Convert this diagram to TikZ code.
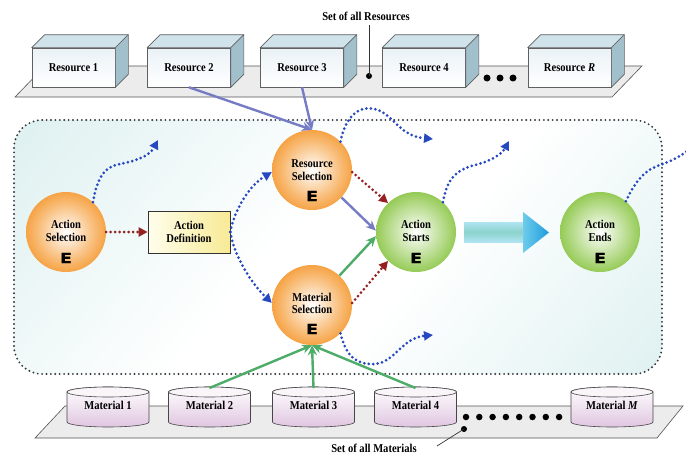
\documentclass[tikz,border=0pt]{standalone}
\usepackage{fontspec}
\setmainfont{Liberation Serif}[FakeStretch=0.88]
\newfontfamily\efont{DejaVu Sans}[FakeStretch=1.25,FakeBold=1]
\usetikzlibrary{arrows.meta}

\definecolor{orng}{RGB}{244,146,34}
\definecolor{grn}{RGB}{128,192,52}
\definecolor{dotblue}{RGB}{38,72,192}
\definecolor{dotred}{RGB}{150,32,32}
\definecolor{slate}{RGB}{118,124,196}
\definecolor{mgreen}{RGB}{76,172,104}
\definecolor{bgteal}{RGB}{206,233,233}
\definecolor{frame}{RGB}{50,56,62}
\definecolor{boxtop}{RGB}{208,226,234}
\definecolor{boxside}{RGB}{162,192,204}
\definecolor{boxfront}{RGB}{234,242,246}
\definecolor{cylpink}{RGB}{224,198,224}
\definecolor{platf}{RGB}{236,236,236}
\definecolor{ivory}{RGB}{255,254,236}
\definecolor{ylw}{RGB}{248,234,150}
\definecolor{shaftA}{RGB}{176,228,242}
\definecolor{shaftB}{RGB}{140,210,204}
\definecolor{headA}{RGB}{110,204,236}
\definecolor{headB}{RGB}{28,156,220}

\pgfdeclareradialshading{orangeball}{\pgfpoint{0bp}{0bp}}{color(0bp)=(white); color(3bp)=(white!90!orng); color(18bp)=(orng!62!white); color(30bp)=(orng); color(50bp)=(orng)}
\pgfdeclareradialshading{greenball}{\pgfpoint{0bp}{0bp}}{color(0bp)=(white); color(3bp)=(white!90!grn); color(18bp)=(grn!60!white); color(30bp)=(grn); color(50bp)=(grn)}
\pgfdeclarehorizontalshading{bgshade}{100bp}{color(0bp)=(bgteal); color(45bp)=(white); color(58bp)=(white); color(100bp)=(bgteal)}

\tikzset{
  lbl/.style={font=\bfseries\fontsize{12}{12.5}\selectfont, align=center, inner sep=0pt},
  ee/.style={font=\efont\bfseries\fontsize{14}{14}\selectfont, inner sep=0pt},
  oball/.style={circle, minimum size=80pt, inner sep=0pt, shading=orangeball},
  gball/.style={circle, minimum size=80pt, inner sep=0pt, shading=greenball},
  bdots/.style={dotblue, line width=3pt, dash pattern=on 0pt off 4.5pt, line cap=round, -{Triangle[length=9pt,width=9pt]}},
  rdots/.style={dotred, line width=3pt, dash pattern=on 0pt off 4.5pt, line cap=round, -{Triangle[length=9pt,width=9pt]}},
  parr/.style={slate, line width=2.4pt, -{Stealth[length=10pt,width=9pt]}},
  garr/.style={mgreen, line width=2.4pt, -{Stealth[length=10pt,width=9pt]}},
  resfront/.style={draw=gray!75!black, line width=0.6pt, minimum width=83pt, minimum height=39pt, inner sep=0pt, top color=boxfront, bottom color=white, font=\bfseries\fontsize{12}{12.5}\selectfont},
  face/.style={draw=gray!75!black, line width=0.6pt, line join=round},
  plat/.style={fill=platf, draw=gray!65!black, line width=0.6pt},
  cylbody/.style={draw=gray!55!black, line width=0.6pt, top color=white, bottom color=cylpink},
  cyltop/.style={draw=gray!55!black, line width=0.6pt, fill=white!82!cylpink},
  blackdot/.style={circle, fill=black, inner sep=0pt, minimum size=#1},
  blackdot/.default=6pt,
  framedots/.style={draw=frame, line width=2.1pt, dash pattern=on 0pt off 4.4pt, line cap=round},
  pointer/.style={draw=gray!40!black, line width=0.7pt},
}

\newcommand\resbox[3]{%
  \node[resfront] (#1) at (#2,-67.5) {#3};
  \draw[face, fill=boxtop] (#1.north west) -- ++(13,13) -- ([shift={(13,13)}]#1.north east) -- (#1.north east) -- cycle;
  \draw[face, fill=boxside] (#1.north east) -- ++(13,13) -- ([shift={(13,13)}]#1.south east) -- (#1.south east) -- cycle;
}
\newcommand\matcyl[3]{%
  \draw[cylbody] ({#2-41},-392) -- ({#2-41},-422) arc[start angle=180,end angle=360,x radius=41,y radius=5] -- ({#2+41},-392) arc[start angle=0,end angle=180,x radius=41,y radius=5] -- cycle;
  \draw[cyltop] (#2,-392) ellipse[x radius=41,y radius=5];
  \node[lbl] (#1) at (#2,-405) {#3};
  \coordinate (#1top) at (#2,-388);
}

\begin{document}
\begin{tikzpicture}[x=1pt,y=1pt]
\path[use as bounding box] (0,0) rectangle (686,-455);
\clip (0,0) rectangle (686,-455);

% background frame
\shade[shading=bgshade, shading angle=-40, rounded corners=28pt] (14,-120) rectangle (662,-374);
\draw[framedots, rounded corners=28pt] (14,-120) rectangle (662,-374);

% resource platform
\draw[plat] (15,-97) -- (612,-97) -- (642,-66) -- (45,-66) -- cycle;
\resbox{r1}{73.5}{Resource 1}
\resbox{r2}{189}{Resource 2}
\resbox{r3}{302}{Resource 3}
\resbox{r4}{424}{Resource 4}
\resbox{rR}{569.5}{Resource \textit{R}}
\node[blackdot=7pt] (rd1) at (487,-78) {};
\node[blackdot=7pt] (rd2) at (500,-78) {};
\node[blackdot=7pt] (rd3) at (513,-78) {};
\node[blackdot] (resdot) at (369,-76) {};
\node[lbl] (setres) at (366,-16) {Set of all Resources};
\coordinate (resline) at (369,-25);
\draw[pointer] (resdot.center) -- (resline);

% material platform
\draw[plat] (35,-438) -- (657,-438) -- (683,-406) -- (65,-406) -- cycle;
\matcyl{m1}{108}{Material 1}
\matcyl{m2}{209.5}{Material 2}
\matcyl{m3}{313.5}{Material 3}
\matcyl{m4}{415.5}{Material 4}
\matcyl{mM}{612}{Material \textit{M}}
\foreach \i in {0,...,7} {\node[blackdot=6.5pt] (md\i) at ({466+13.3*\i},-417) {};}
\node[blackdot] (matdot) at (464,-429) {};
\node[lbl] (setmat) at (374,-448) {Set of all Materials};
\coordinate (matline) at (437,-446);
\draw[pointer] (matdot.center) -- (matline);

% event circles
\node[oball] (as) at (66,-232) {};
\node[lbl] (as-t) at (66,-231) {Action\\Selection};
\node[ee] (as-e) at (66,-258) {E};

\node[oball] (rs) at (312,-170) {};
\node[lbl] (rs-t) at (312,-170) {Resource\\Selection};
\node[ee] (rs-e) at (312,-196) {E};

\node[oball] (ms) at (312,-305) {};
\node[lbl] (ms-t) at (312,-303.5) {Material\\Selection};
\node[ee] (ms-e) at (312,-329) {E};

\node[gball] (acs) at (416,-232) {};
\node[lbl] (acs-t) at (416,-231) {Action\\Starts};
\node[ee] (acs-e) at (416,-258) {E};

\node[gball] (ae) at (600,-232) {};
\node[lbl] (ae-t) at (600,-231) {Action\\Ends};
\node[ee] (ae-e) at (600,-258) {E};

% action definition
\node[draw=gray!40!black, line width=0.7pt, minimum width=82pt, minimum height=42pt, inner sep=0pt,
      left color=ivory, right color=ylw, lbl] (ad) at (189,-232) {Action\\Definition};

% big block arrow
\shade[top color=shaftA, bottom color=shaftA, middle color=shaftB] (464,-222) rectangle (523.5,-242);
\shade[left color=headA, right color=headB] (523,-212) -- (549,-232.5) -- (523,-253) -- cycle;

% red dotted
\draw[rdots] (as.east) -- (ad.west);
\draw[rdots] (rs.-3) -- (acs.134);
\draw[rdots] (ms.3) -- (acs.226);

% blue dotted
\draw[bdots] (as.48) .. controls (98,-175) and (105,-167) .. (120,-164) .. controls (140,-160) and (150,-155) .. (158,-140);
\draw[bdots] (ad.east) .. controls (234,-210) and (250,-185) .. (rs.183);
\draw[bdots] (ad.east) .. controls (234,-255) and (250,-282) .. (ms.177);
\draw[bdots] (rs.45) .. controls (346,-115) and (360,-104) .. (378,-110) .. controls (395,-117) and (400,-136) .. (433,-139);
\draw[bdots] (acs.48) .. controls (447,-180) and (455,-170) .. (475,-165) .. controls (495,-160) and (503,-152) .. (509,-141);
\draw[bdots] (ae.50) .. controls (636,-180) and (645,-170) .. (660,-165) .. controls (680,-158) and (690,-150) .. (700,-135);
\draw[bdots] (ms.-45) .. controls (346,-355) and (355,-365) .. (375,-364) .. controls (395,-362) and (402,-338) .. (433,-335);

% purple
\draw[parr] (r2.south) -- (rs.north);
\draw[parr] (r3.south) -- (rs.north);
\draw[parr] (rs.-43) -- (acs.178);

% green
\draw[garr] (ms.47) -- (acs.186);
\draw[garr] (m2top) -- (ms.south);
\draw[garr] (m3top) -- (ms.south);
\draw[garr] (m4top) -- (ms.south);
\end{tikzpicture}
\end{document}
